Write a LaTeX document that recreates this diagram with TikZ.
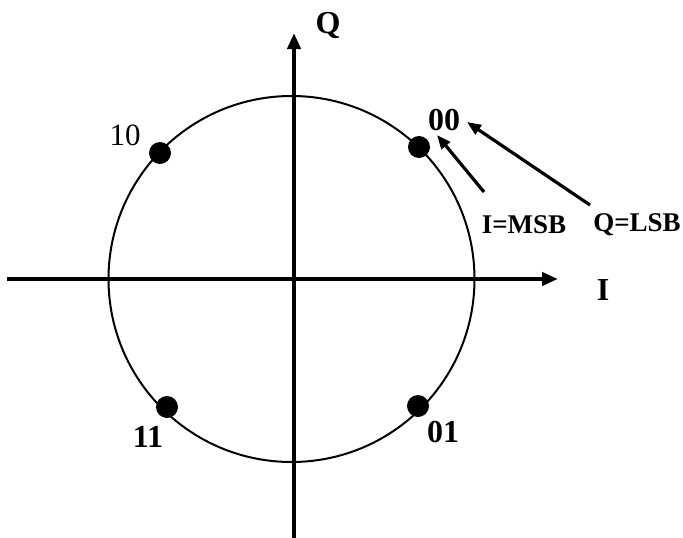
\documentclass[tikz,border=0pt]{standalone}
\usepackage{fontspec}
\setmainfont{Liberation Serif}
\usetikzlibrary{arrows.meta}
\begin{document}
\begin{tikzpicture}[x=1pt,y=-1pt,
  axis/.style={line width=4pt,-{Triangle[length=16pt,width=13pt]}},
  pointer/.style={line width=3.2pt,-{Triangle[length=14pt,width=11pt]}},
  dot/.style={circle,fill=black,inner sep=0pt,minimum size=22pt},
  biglbl/.style={font=\fontsize{32}{32}\selectfont\bfseries,inner sep=0pt},
  reglbl/.style={font=\fontsize{31}{31}\selectfont,inner sep=0pt},
  smalllbl/.style={font=\fontsize{27}{27}\selectfont\bfseries,inner sep=0pt}]
\useasboundingbox (0,0) rectangle (683,538);
\draw[line width=2pt] (291.5,279) circle[radius=183];
\coordinate (xl) at (7,279);
\coordinate (xr) at (558,279);
\coordinate (yb) at (294,540);
\coordinate (yt) at (294,33);
\draw[axis] (xl) -- (xr);
\draw[axis] (yb) -- (yt);
\node[dot] (p10) at (160,153) {};
\node[dot] (p00) at (419,147) {};
\node[dot] (p11) at (167,407) {};
\node[dot] (p01) at (418,406) {};
\node[reglbl] (l10) at (125,135) {10};
\node[biglbl] (l00) at (444,120) {00};
\node[biglbl] (l11) at (148,437) {11};
\node[biglbl] (l01) at (443,432) {01};
\node[biglbl] (lQ) at (328,26) {Q};
\node[biglbl] (lI) at (603,290) {I};
\node[smalllbl] (msb) at (524,225) {I=MSB};
\node[smalllbl] (lsb) at (637,225) {Q=LSB};
\coordinate (msbt) at (484,192);
\coordinate (msbh) at (437,135);
\coordinate (lsbt) at (590,205);
\coordinate (lsbh) at (467,122);
\draw[pointer] (msbt) -- (msbh);
\draw[pointer] (lsbt) -- (lsbh);
\end{tikzpicture}
\end{document}
